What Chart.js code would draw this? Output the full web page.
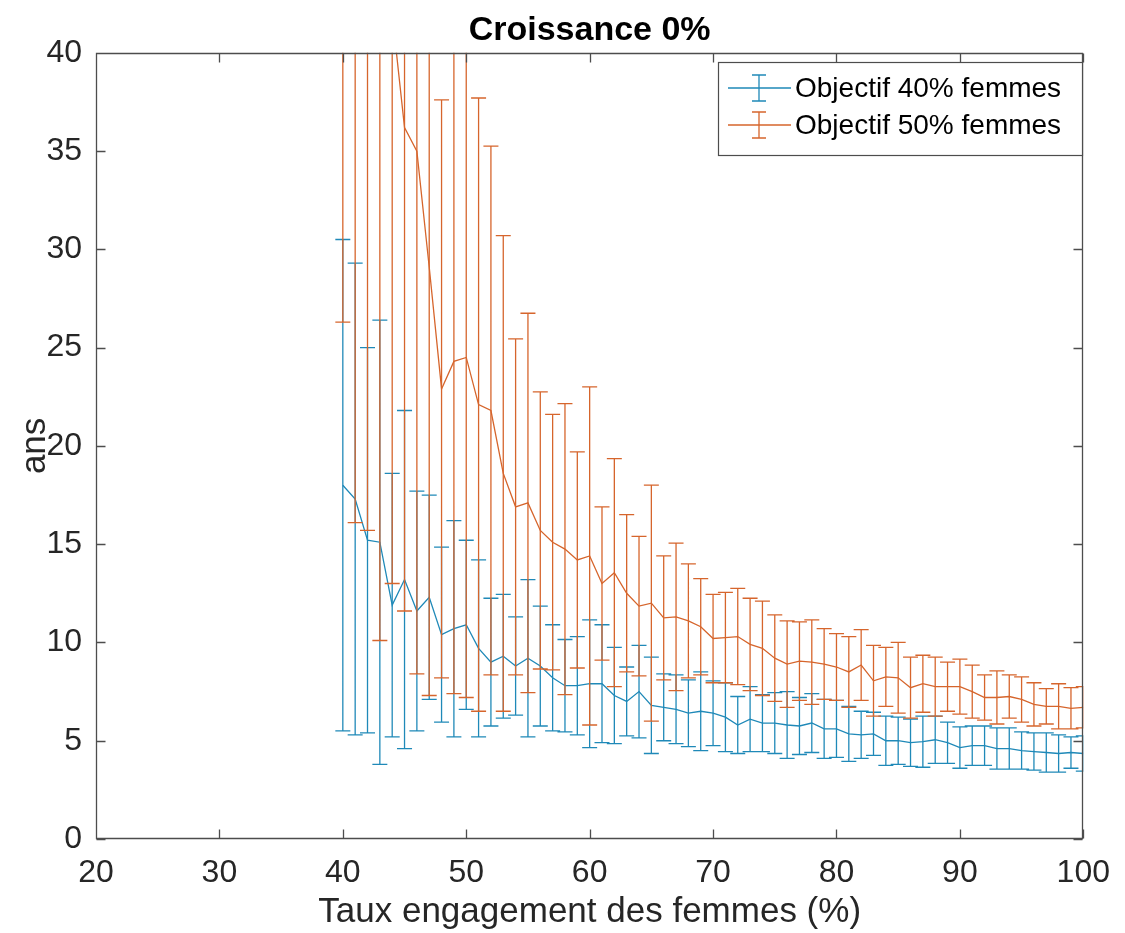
<!DOCTYPE html>
<html>
<head>
<meta charset="utf-8">
<script src="https://cdn.jsdelivr.net/npm/chart.js@4.4.1/dist/chart.umd.min.js"></script>
<style>
  html, body { margin: 0; padding: 0; background: #fff; }
</style>
</head>
<body>
<canvas id="graphe" width="1125" height="933"></canvas>
<script>
// taux d'engagement des femmes (%)
var taux = [40, 41, 42, 43, 44, 45, 46, 47, 48, 49,
            50, 51, 52, 53, 54, 55, 56, 57, 58, 59,
            60, 61, 62, 63, 64, 65, 66, 67, 68, 69,
            70, 71, 72, 73, 74, 75, 76, 77, 78, 79,
            80, 81, 82, 83, 84, 85, 86, 87, 88, 89,
            90, 91, 92, 93, 94, 95, 96, 97, 98, 99, 100];

// objectif 40% femmes : moyenne et demi-largeur de l'intervalle (ans)
var moy40 = [18.0, 17.3, 15.2, 15.1, 11.9, 13.2, 11.6, 12.3, 10.4, 10.7,
             10.9, 9.7, 9.0, 9.3, 8.8, 9.2, 8.8, 8.2, 7.8, 7.8,
             7.9, 7.9, 7.3, 7.0, 7.5, 6.8, 6.7, 6.6, 6.4, 6.5,
             6.4, 6.2, 5.8, 6.1, 5.9, 5.9, 5.8, 5.75, 5.9, 5.6,
             5.6, 5.35, 5.3, 5.35, 5.0, 5.0, 4.9, 4.95, 5.05, 4.9,
             4.65, 4.75, 4.75, 4.6, 4.6, 4.5, 4.45, 4.4, 4.35, 4.4, 4.35];
var err40 = [12.5, 12.0, 9.8, 11.3, 6.7, 8.6, 6.1, 5.2, 4.45, 5.5,
             4.3, 4.5, 3.25, 3.15, 2.5, 4.0, 3.05, 2.7, 2.35, 2.5,
             3.25, 3.0, 2.45, 1.75, 2.35, 2.45, 1.7, 1.75, 1.7, 2.0,
             1.65, 1.75, 1.45, 1.65, 1.45, 1.55, 1.7, 1.45, 1.5, 1.5,
             1.45, 1.4, 1.2, 1.1, 1.25, 1.2, 1.2, 1.3, 1.2, 1.05,
             1.05, 1.0, 1.0, 1.05, 1.05, 0.95, 0.95, 1.0, 0.95, 0.8, 0.9];

// objectif 50% femmes
var moy50 = [52.0, 48.0, 46.0, 45.0, 42.0, 36.2, 35.0, 29.1, 22.9, 24.3,
             24.5, 22.1, 21.8, 18.6, 16.9, 17.1, 15.7, 15.1, 14.75, 14.2,
             14.4, 13.0, 13.55, 12.5, 11.85, 12.0, 11.25, 11.3, 11.1, 10.8,
             10.2, 10.25, 10.3, 9.9, 9.7, 9.2, 8.9, 9.05, 9.0, 8.9,
             8.75, 8.5, 8.85, 8.05, 8.25, 8.2, 7.7, 7.9, 7.75, 7.75,
             7.75, 7.5, 7.2, 7.2, 7.25, 7.1, 6.85, 6.75, 6.75, 6.65, 6.7];
var err50 = [25.7, 31.9, 30.3, 34.9, 29.0, 24.6, 26.6, 21.8, 14.7, 16.9,
             17.3, 15.6, 13.45, 12.1, 8.55, 9.65, 7.05, 6.5, 7.4, 5.5,
             8.6, 3.9, 5.8, 4.0, 3.55, 6.0, 3.15, 3.75, 2.9, 2.45,
             2.25, 2.3, 2.45, 2.35, 2.4, 2.2, 2.2, 2.0, 2.15, 1.8,
             1.7, 1.8, 1.8, 1.8, 1.5, 1.8, 1.55, 1.45, 1.5, 1.25,
             1.4, 1.35, 1.15, 1.35, 1.1, 1.15, 1.1, 0.9, 1.15, 1.05, 1.05];

var ticksX = [20, 30, 40, 50, 60, 70, 80, 90, 100];
var ticksY = [0, 5, 10, 15, 20, 25, 30, 35, 40];

var bleu = '#1f89b8';
var orange = '#d6652c';
var police = "'Liberation Sans', Arial, Helvetica, sans-serif";
var gris = '#262626';

function points(moy) {
  return taux.map(function (t, i) { return { x: t, y: moy[i] }; });
}

// barres d'erreur verticales avec petites barres horizontales aux extrémités
var barresErreur = {
  id: 'barresErreur',
  afterDatasetDraw: function (chart, args) {
    var ds = chart.data.datasets[args.index];
    if (!ds.erreurs) return;
    var ctx = chart.ctx, zone = chart.chartArea;
    var sx = chart.scales.x, sy = chart.scales.y;
    ctx.save();
    ctx.beginPath();
    ctx.rect(zone.left, zone.top, zone.right - zone.left, zone.bottom - zone.top);
    ctx.clip();
    ctx.strokeStyle = ds.borderColor;
    ctx.lineWidth = ds.borderWidth;
    ctx.beginPath();
    for (var i = 0; i < taux.length; i++) {
      var m = ds.data[i].y, e = ds.erreurs[i];
      var px = sx.getPixelForValue(taux[i]);
      var haut = sy.getPixelForValue(m + e);
      var bas = sy.getPixelForValue(m - e);
      ctx.moveTo(px, haut); ctx.lineTo(px, bas);
      ctx.moveTo(px - 7.5, haut); ctx.lineTo(px + 7.5, haut);
      ctx.moveTo(px - 7.5, bas); ctx.lineTo(px + 7.5, bas);
    }
    ctx.stroke();
    ctx.restore();
  }
};

// cadre complet avec graduations vers l'intérieur sur les quatre côtés
var cadre = {
  id: 'cadre',
  afterDatasetsDraw: function (chart) {
    var ctx = chart.ctx, z = chart.chartArea;
    var sx = chart.scales.x, sy = chart.scales.y;
    var l = Math.round(z.left) + 0.5, r = Math.round(z.right) - 0.5;
    var t = Math.round(z.top) + 0.5, b = Math.round(z.bottom) - 0.5;
    var lg = 9;
    ctx.save();
    ctx.strokeStyle = '#4d4d4d';
    ctx.lineWidth = 1.3;
    ctx.beginPath();
    ctx.rect(l, t, r - l, b - t);
    ticksX.forEach(function (v) {
      var px = Math.round(sx.getPixelForValue(v)) + 0.5;
      ctx.moveTo(px, b); ctx.lineTo(px, b - lg);
      ctx.moveTo(px, t); ctx.lineTo(px, t + lg);
    });
    ticksY.forEach(function (v) {
      var py = Math.round(sy.getPixelForValue(v)) + 0.5;
      ctx.moveTo(l, py); ctx.lineTo(l + lg, py);
      ctx.moveTo(r, py); ctx.lineTo(r - lg, py);
    });
    ctx.stroke();
    ctx.restore();
  }
};

// légende encadrée en haut à droite
var legende = {
  id: 'legende',
  afterDraw: function (chart) {
    var ctx = chart.ctx;
    var x0 = 718, y0 = 62, w = 364, h = 93;
    ctx.save();
    ctx.fillStyle = '#fff';
    ctx.fillRect(x0, y0, w, h);
    ctx.strokeStyle = '#4d4d4d';
    ctx.lineWidth = 1.2;
    ctx.strokeRect(x0 + 0.5, y0 + 0.5, w, h);
    ctx.font = '28px ' + police;
    ctx.textBaseline = 'middle';
    ctx.textAlign = 'left';
    chart.data.datasets.forEach(function (ds, i) {
      var cy = y0 + 26 + i * 37;
      var cx = x0 + 41;
      ctx.strokeStyle = ds.borderColor;
      ctx.lineWidth = ds.borderWidth;
      ctx.beginPath();
      ctx.moveTo(x0 + 10, cy); ctx.lineTo(x0 + 73, cy);
      ctx.moveTo(cx, cy - 13); ctx.lineTo(cx, cy + 13);
      ctx.moveTo(cx - 7, cy - 13); ctx.lineTo(cx + 7, cy - 13);
      ctx.moveTo(cx - 7, cy + 13); ctx.lineTo(cx + 7, cy + 13);
      ctx.stroke();
      ctx.fillStyle = '#000';
      ctx.fillText(ds.label, x0 + 77, cy + 1);
    });
    ctx.restore();
  }
};

var ctx = document.getElementById('graphe').getContext('2d');
var graphe = new Chart(ctx, {
  type: 'line',
  data: {
    datasets: [{
      label: 'Objectif 40% femmes',
      data: points(moy40),
      erreurs: err40,
      borderColor: bleu,
      borderWidth: 1.3,
      pointRadius: 0,
      fill: false,
      tension: 0,
      order: 2
    }, {
      label: 'Objectif 50% femmes',
      data: points(moy50),
      erreurs: err50,
      borderColor: orange,
      borderWidth: 1.3,
      pointRadius: 0,
      fill: false,
      tension: 0,
      order: 1
    }]
  },
  options: {
    responsive: false,
    animation: false,
    devicePixelRatio: 1,
    layout: { padding: { left: 0, right: 32, top: 0, bottom: 0 } },
    plugins: {
      legend: { display: false },
      tooltip: { enabled: false },
      title: {
        display: true,
        fullSize: false,
        text: 'Croissance 0%',
        color: '#000',
        font: { family: police, size: 34, weight: 'bold' },
        padding: { top: 10, bottom: 2 }
      }
    },
    scales: {
      x: {
        type: 'linear',
        min: 20,
        max: 100,
        afterFit: function (s) { s.height = 94; },
        afterBuildTicks: function (s) { s.ticks = ticksX.map(function (v) { return { value: v }; }); },
        grid: { display: false, drawTicks: false },
        border: { display: false },
        ticks: { color: gris, font: { family: police, size: 32 }, padding: 15, maxRotation: 0, autoSkip: false },
        title: {
          display: true,
          text: 'Taux engagement des femmes (%)',
          color: gris,
          font: { family: police, size: 35 },
          padding: { top: 0, bottom: 0 }
        }
      },
      y: {
        min: 0,
        max: 40,
        afterFit: function (s) { s.width = 96; },
        afterBuildTicks: function (s) { s.ticks = ticksY.map(function (v) { return { value: v }; }); },
        grid: { display: false, drawTicks: false },
        border: { display: false },
        ticks: { color: gris, font: { family: police, size: 32 }, padding: 14, autoSkip: false },
        title: {
          display: true,
          text: 'ans',
          color: gris,
          font: { family: police, size: 35 },
          padding: { top: 14, bottom: 0 }
        }
      }
    }
  },
  plugins: [barresErreur, cadre, legende]
});
</script>
</body>
</html>
